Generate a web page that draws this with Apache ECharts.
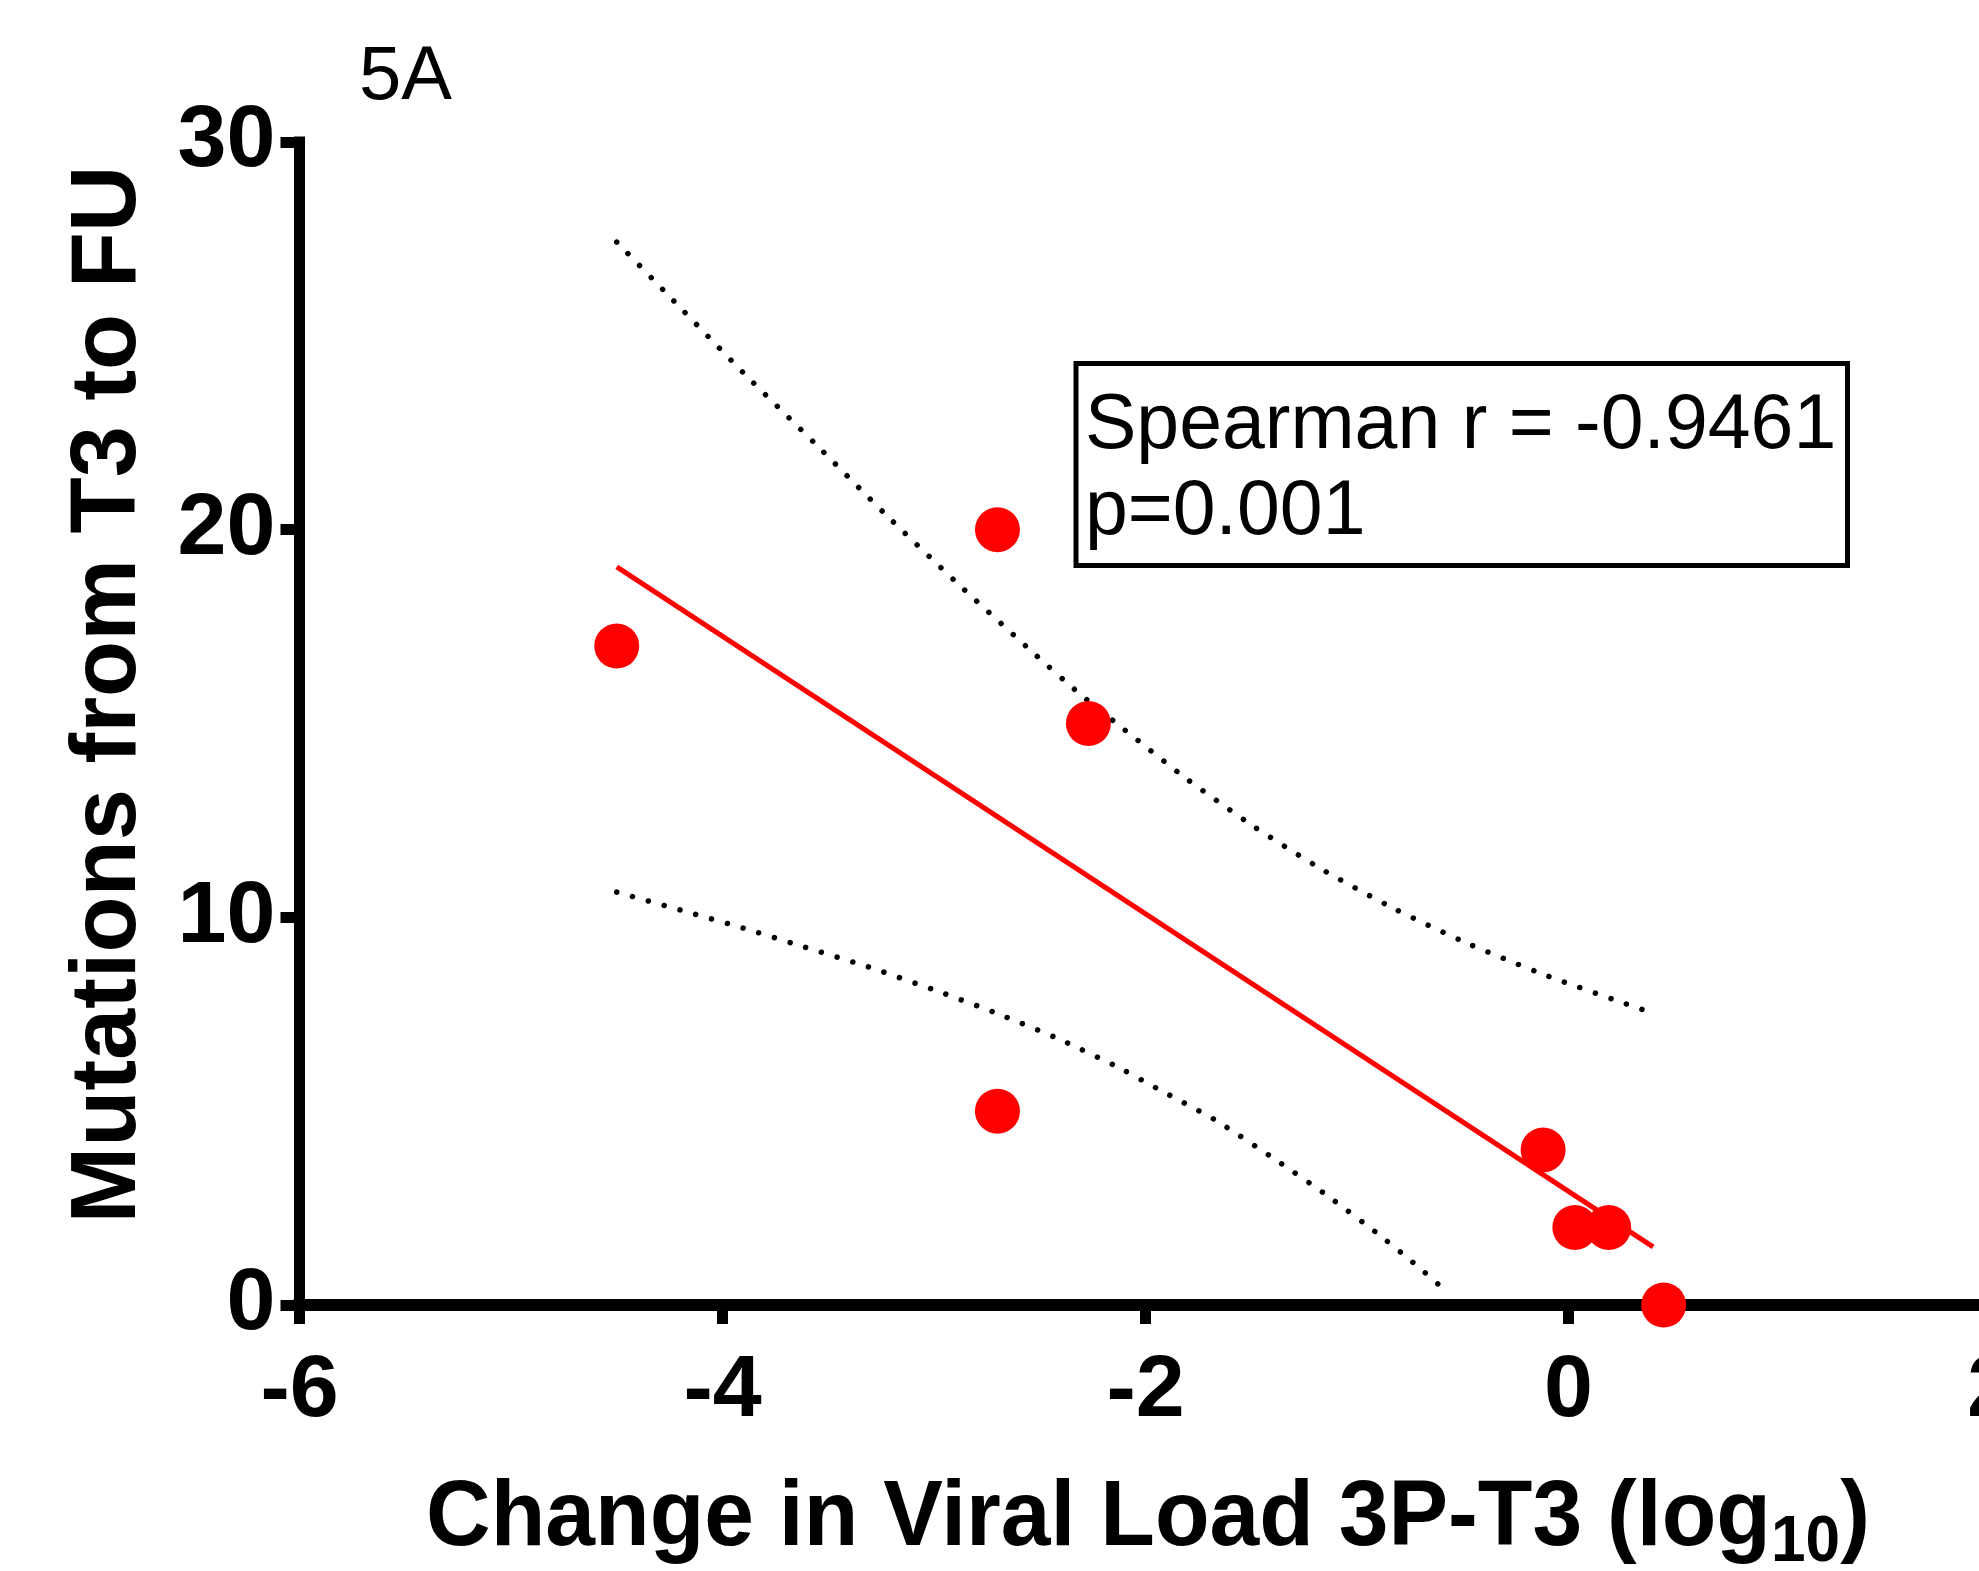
<!DOCTYPE html>
<html>
<head>
<meta charset="utf-8">
<script src="https://cdn.jsdelivr.net/npm/echarts@6/dist/echarts.min.js"></script>
<style>
  html, body { margin: 0; padding: 0; background: #fff; }
  #chart { width: 1979px; height: 1571px; }
</style>
</head>
<body>
<div id="chart"></div>
<script>
const FONT = '"Liberation Sans", Arial, sans-serif';

// measured points (change in viral load, mutations)
const pointX = [-4.50, -2.70, -2.27, -2.70, -0.12, 0.03, 0.19, 0.45];
const pointY = [17, 20, 15, 5, 4, 2, 2, 0];

// regression line end points
const fitX = [-4.50, 0.40];
const fitY = [19.04, 1.50];

// dotted confidence band
const upperX = [-4.50, -4.23, -3.90, -3.56, -3.23, -2.89, -2.54, -2.31, -2.12, -1.81, -1.49, -1.17, -0.82, -0.47, -0.11, 0.36];
const upperY = [27.42, 25.90, 24.04, 22.21, 20.40, 18.62, 16.87, 15.76, 14.93, 13.59, 12.35, 11.25, 10.21, 9.31, 8.51, 7.60];
const lowerX = [-4.50, -4.20, -3.90, -3.61, -3.31, -3.01, -2.72, -2.43, -2.15, -1.95, -1.67, -1.41, -1.15, -0.90, -0.72, -0.60];
const lowerY = [10.65, 10.19, 9.72, 9.23, 8.72, 8.15, 7.56, 6.91, 6.19, 5.60, 4.77, 3.84, 2.86, 1.83, 1.03, 0.46];

const pairs = (xs, ys) => xs.map((x, i) => [x, ys[i]]);

const chart = echarts.init(document.getElementById('chart'), null, { renderer: 'canvas' });

const dotted = {
  color: '#000',
  width: 5.5,
  type: [0.01, 16.4],
  cap: 'round',
};

const option = {
  animation: false,
  backgroundColor: '#ffffff',
  grid: {
    left: 299.5,
    top: 142,
    right: -12.5,
    bottom: 266,
    containLabel: false,
    outerBoundsMode: 'none',
  },
  xAxis: {
    type: 'value',
    min: -6,
    max: 2,
    interval: 2,
    splitLine: { show: false },
    axisLine: {
      onZero: false,
      lineStyle: { color: '#000', width: 12, cap: 'square' },
    },
    axisTick: {
      length: 19,
      lineStyle: { color: '#000', width: 11 },
    },
    axisLabel: {
      color: '#000',
      fontSize: 88,
      fontWeight: 'bold',
      fontFamily: FONT,
      margin: 43,
      hideOverlap: false,
    },
  },
  yAxis: {
    type: 'value',
    min: 0,
    max: 30,
    interval: 10,
    splitLine: { show: false },
    axisLine: {
      show: true,
      onZero: false,
      lineStyle: { color: '#000', width: 11, cap: 'square' },
    },
    axisTick: {
      show: true,
      length: 19,
      lineStyle: { color: '#000', width: 11 },
    },
    axisLabel: {
      color: '#000',
      fontSize: 88,
      fontWeight: 'bold',
      fontFamily: FONT,
      margin: 24,
    },
  },
  series: [
    {
      type: 'line',
      data: pairs(upperX, upperY),
      showSymbol: false,
      symbol: 'none',
      smooth: 0.2,
      lineStyle: dotted,
      z: 2,
    },
    {
      type: 'line',
      data: pairs(lowerX, lowerY),
      showSymbol: false,
      symbol: 'none',
      smooth: 0.2,
      lineStyle: dotted,
      z: 2,
    },
    {
      type: 'line',
      data: pairs(fitX, fitY),
      showSymbol: false,
      symbol: 'none',
      lineStyle: { color: '#ff0000', width: 5 },
      z: 3,
    },
    {
      type: 'scatter',
      data: pairs(pointX, pointY),
      symbol: 'circle',
      symbolSize: 45,
      clip: false,
      itemStyle: { color: '#ff0000', opacity: 1 },
      z: 4,
    },
  ],
  graphic: [
    {
      type: 'text',
      x: 359,
      y: 78,
      style: {
        text: '5A',
        fontSize: 76,
        fontFamily: FONT,
        fill: '#000',
        align: 'left',
        verticalAlign: 'middle',
      },
    },
    {
      type: 'text',
      x: 110,
      y: 694.5,
      rotation: Math.PI / 2,
      style: {
        text: 'Mutations from T3 to FU',
        fontSize: 92,
        fontWeight: 'bold',
        fontFamily: FONT,
        fill: '#000',
        align: 'center',
        verticalAlign: 'middle',
      },
    },
    {
      type: 'text',
      x: 1148,
      y: 1520,
      scaleX: 0.972,
      style: {
        text: '{a|Change in Viral Load 3P-T3 (log}{s|10}{a|)}',
        align: 'center',
        verticalAlign: 'middle',
        fill: '#000',
        rich: {
          a: { fontSize: 92, fontWeight: 'bold', fontFamily: FONT, fill: '#000', lineHeight: 110 },
          s: { fontSize: 64, fontWeight: 'bold', fontFamily: FONT, fill: '#000', lineHeight: 38, verticalAlign: 'bottom' },
        },
      },
    },
    {
      type: 'rect',
      shape: { x: 1076, y: 363.5, width: 771.5, height: 202 },
      style: { fill: '#fff', stroke: '#000', lineWidth: 5 },
      z: 10,
    },
    {
      type: 'text',
      x: 1085,
      y: 427,
      z: 11,
      style: {
        text: 'Spearman r = -0.9461',
        fontSize: 77,
        fontFamily: FONT,
        fill: '#000',
        align: 'left',
        verticalAlign: 'middle',
      },
    },
    {
      type: 'text',
      x: 1085,
      y: 513,
      z: 11,
      style: {
        text: 'p=0.001',
        fontSize: 77,
        fontFamily: FONT,
        fill: '#000',
        align: 'left',
        verticalAlign: 'middle',
      },
    },
  ],
};

chart.setOption(option);
</script>
</body>
</html>
